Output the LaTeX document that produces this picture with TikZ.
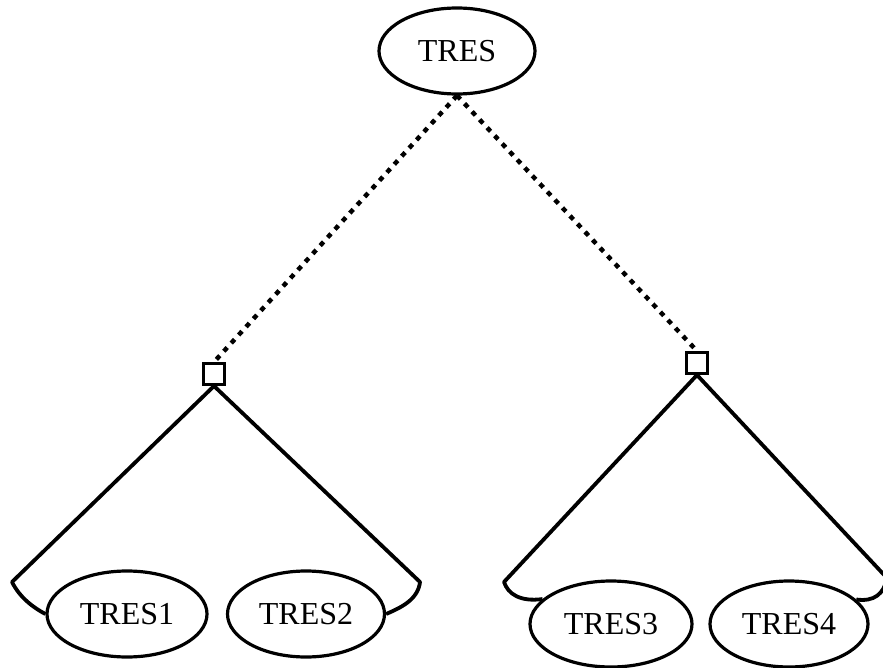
\documentclass[tikz,border=0pt]{standalone}
\usepackage{fontspec}
\setmainfont{Liberation Serif}
\usetikzlibrary{shapes.geometric}
\begin{document}
\begin{tikzpicture}[x=1pt,y=-1pt,
  oval/.style={ellipse,draw,line width=3.2pt,minimum height=86pt,inner sep=0pt,
    font=\fontsize{32}{32}\selectfont},
  joint/.style={rectangle,draw,line width=3pt,minimum size=21pt,inner sep=0pt,fill=white},
  branch/.style={line width=3.8pt,line join=round},
  link/.style={line width=4.5pt,dash pattern=on 5pt off 6pt}]
\useasboundingbox (0,0) rectangle (883,668);
\clip (0,0) rectangle (883,668);

% nodes
\node[oval,minimum width=156pt] (top) at (457,51) {TRES};
\node[oval,minimum width=160pt] (t1) at (127,614) {TRES1};
\node[oval,minimum width=157pt] (t2) at (306,614) {TRES2};
\node[oval,minimum width=162pt] (t3) at (611,624) {TRES3};
\node[oval,minimum width=158pt] (t4) at (789,624) {TRES4};
\node[joint] (sqL) at (214,374) {};
\node[joint] (sqR) at (697,363) {};

% corners of the branches
\coordinate (cL1) at (12,582);
\coordinate (cL2) at (420,582);
\coordinate (cR1) at (504,582);
\coordinate (cR2) at (887,578);

% dotted links from the root
\draw[link] (top.south) -- (sqL.north);
\draw[link] (top.south) -- (sqR.north);

% solid branches
\draw[branch] (sqL.south) -- (cL1) .. controls (20,598) and (34,608) .. (t1.west);
\draw[branch] (sqL.south) -- (cL2) .. controls (418,600) and (400,608) .. (t2.east);
\draw[branch] (sqR.south) -- (cR1) .. controls (508,594) and (520,602) .. (t3.160);
\draw[branch] (sqR.south) -- (cR2) .. controls (884,594) and (874,602) .. (t4.20);
\end{tikzpicture}
\end{document}
